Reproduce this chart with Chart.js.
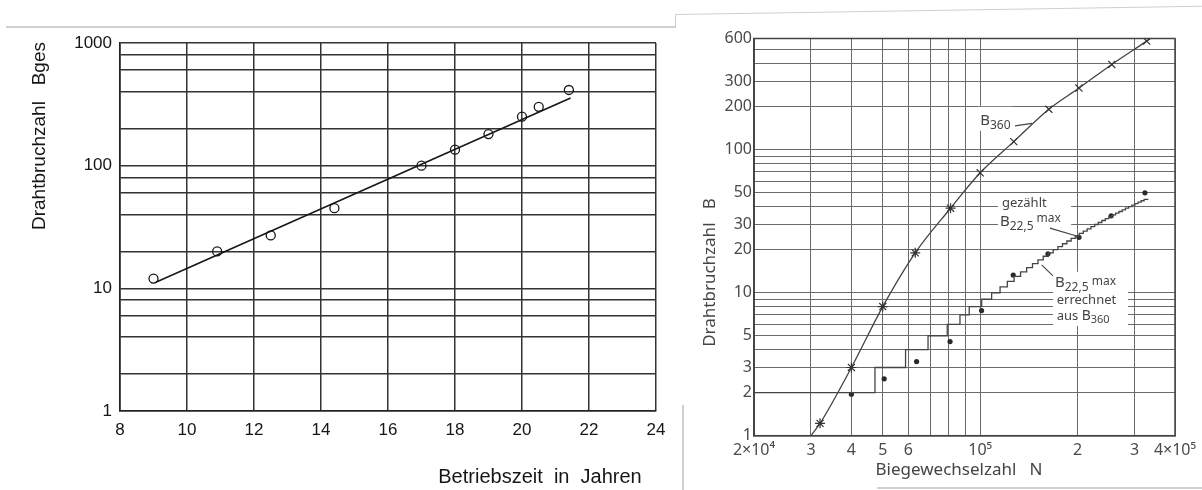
<!DOCTYPE html>
<html>
<head>
<meta charset="utf-8">
<script src="https://cdn.jsdelivr.net/npm/chart.js@4.4.0/dist/chart.umd.min.js"></script>
<style>
  html, body { margin: 0; padding: 0; background: #fff; }
  #page { position: relative; width: 1202px; height: 490px; overflow: hidden; background: #fff; }
  #left { position: absolute; left: 0; top: 0; width: 680px; height: 490px; }
  #right { position: absolute; left: 680px; top: 0; width: 522px; height: 490px; }
  .edge { position: absolute; background: #cfcfcf; }
</style>
</head>
<body>
<div id="page">
  <canvas id="left" width="680" height="490"></canvas>
  <canvas id="right" width="522" height="490"></canvas>
  <!-- scan edges -->
  <div class="edge" style="left:6px;top:26px;width:670px;height:2px"></div>
  <div class="edge" style="left:675px;top:14px;width:1px;height:13px"></div>
  <div class="edge" style="left:675px;top:14px;width:527px;height:1px;transform-origin:0 0;transform:rotate(-0.9deg)"></div>
  <div class="edge" style="left:682px;top:405px;width:2px;height:85px"></div>
  <div class="edge" style="left:877px;top:487px;width:325px;height:2px"></div>
</div>
<script>
// ---- left chart: Drahtbruchzahl over Betriebszeit ----
const yearTicks = [8, 10, 12, 14, 16, 18, 20, 22, 24];
const leftGrid = [1, 2, 4, 6, 8, 10, 20, 40, 60, 80, 100, 200, 400, 600, 800, 1000];
const leftYLabels = [1, 10, 100, 1000];
const years = [9, 10.9, 12.5, 14.4, 17, 18, 19, 20, 20.5, 21.4];
const breaks = [12, 20, 27, 45, 100, 135, 181, 251, 302, 414];
const fitYears = [9.07, 21.45];
const fitBreaks = [11.2, 356];

// ---- right chart: Drahtbruchzahl over Biegewechselzahl ----
const nGrid = [2e4, 3e4, 4e4, 5e4, 6e4, 7e4, 8e4, 9e4, 1e5, 2e5, 3e5, 4e5];
const nLabelValues = [2e4, 3e4, 4e4, 5e4, 6e4, 1e5, 2e5, 3e5, 4e5];
const nLabels = ['2×10⁴', '3', '4', '5', '6', '10⁵', '2', '3', '4×10⁵'];
const bGrid = [1, 2, 3, 4, 5, 6, 7, 8, 9, 10, 20, 30, 40, 50, 60, 70, 80, 90, 100, 200, 300, 400, 500, 600];
const bLabelValues = [1, 2, 3, 5, 10, 20, 30, 50, 100, 200, 300, 600];

const b360N = [30000, 32000, 40000, 50000, 63000, 81000, 100000, 127000, 163000, 202000, 255000, 327000, 345000];
const b360B = [1, 1.22, 3, 8, 19, 39, 69, 114, 192, 270, 395, 575, 625];
const b360Marker = [0, 1, 1, 1, 1, 1, 1, 1, 1, 1, 1, 1, 0];

const countN = [40000, 50500, 63600, 80700, 101000, 126500, 162000, 202000, 254000, 323000];
const countB = [1.95, 2.5, 3.3, 4.55, 7.5, 13.3, 18.7, 24.4, 34.5, 50];

const stairN = [20000, 47300, 58800, 69000, 79100, 86600, 92500, 101100, 108500, 115200,
  121300, 127300, 133300, 139200, 145100, 150900, 156600, 162400, 168100, 173800,
  179600, 185300, 191000, 196700, 202500, 208300, 214100, 220000, 225800, 231700,
  237700, 243700, 249800, 255900, 262100, 268400, 274700, 281100, 287600, 294200,
  300800, 307400, 314300, 321100, 328100, 331000];
const stairB = [1, 2, 3, 4, 5, 6, 7, 8, 9, 10,
  11, 12, 13, 14, 15, 16, 17, 18, 19, 20,
  21, 22, 23, 24, 25, 26, 27, 28, 29, 30,
  31, 32, 33, 34, 35, 36, 37, 38, 39, 40,
  41, 42, 43, 44, 45, 45];

const ink = '#161616';
const grey = '#444';
const sansL = '"Liberation Sans", Arial, sans-serif';
const sansR = '"Noto Sans", "DejaVu Sans", sans-serif';

const toXY = (xs, ys) => xs.map((x, i) => ({ x: x, y: ys[i] }));

function drawRotated(ctx, text, x, y, font, color) {
  ctx.save();
  ctx.translate(x, y);
  ctx.rotate(-Math.PI / 2);
  ctx.font = font;
  ctx.fillStyle = color;
  ctx.textAlign = 'center';
  ctx.textBaseline = 'middle';
  ctx.fillText(text, 0, 0);
  ctx.restore();
}

const leftTitles = {
  id: 'leftTitles',
  afterDraw(chart) {
    const ctx = chart.ctx, a = chart.chartArea;
    drawRotated(ctx, 'Drahtbruchzahl   Bges', a.left - 80, a.top + 93, '19px ' + sansL, ink);
    ctx.save();
    ctx.font = '20px ' + sansL;
    ctx.fillStyle = ink;
    ctx.textAlign = 'center';
    ctx.textBaseline = 'middle';
    ctx.fillText('Betriebszeit  in  Jahren', a.left + 420, a.bottom + 66);
    ctx.restore();
  }
};

new Chart(document.getElementById('left'), {
  type: 'scatter',
  data: {
    datasets: [
      {
        label: 'Ausgleich',
        data: toXY(fitYears, fitBreaks),
        showLine: true,
        borderColor: ink,
        borderWidth: 1.5,
        pointRadius: 0
      },
      {
        label: 'Messwerte',
        data: toXY(years, breaks),
        pointStyle: 'circle',
        pointRadius: 4.5,
        borderColor: ink,
        backgroundColor: 'rgba(255,255,255,0)',
        borderWidth: 1.3
      }
    ]
  },
  options: {
    responsive: false,
    animation: false,
    devicePixelRatio: 1,
    layout: { padding: { left: 0, top: 43, right: 24, bottom: 0 } },
    plugins: { legend: { display: false }, tooltip: { enabled: false } },
    scales: {
      x: {
        type: 'linear', min: 8, max: 24,
        afterBuildTicks: s => { s.ticks = yearTicks.map(v => ({ value: v })); },
        afterFit: s => { s.height = 79; },
        grid: { color: '#333', lineWidth: 1.5, drawTicks: false },
        border: { color: '#222', width: 1.6 },
        ticks: { padding: 9, color: ink, font: { family: sansL, size: 17 }, maxRotation: 0, autoSkip: false }
      },
      y: {
        type: 'logarithmic', min: 1, max: 1000,
        afterBuildTicks: s => { s.ticks = leftGrid.map(v => ({ value: v })); },
        afterFit: s => { s.width = 120; },
        grid: { color: '#333', lineWidth: 1.5, drawTicks: false },
        border: { color: '#222', width: 1.6 },
        ticks: {
          padding: 8, color: ink, font: { family: sansL, size: 17 }, autoSkip: false,
          callback: v => leftYLabels.includes(v) ? String(v) : ''
        }
      }
    }
  },
  plugins: [leftTitles]
});

// annotations of the right chart, placed in data coordinates
const whiteBoxes = [
  [98400, 125400, 135.7, 199.6],
  [113500, 191000, 26.6, 47.6],
  [167900, 286200, 5.86, 14.0]
];
const noteTexts = [
  [100000, 159, [['B', 15, 0], ['360', 12, 5]]],
  [116800, 42.5, [['gezählt', 13, 0]]],
  [115100, 31.4, [['B', 15, 0], ['22,5', 12, 5], [' max', 12, -3]]],
  [170300, 11.7, [['B', 15, 0], ['22,5', 12, 5], [' max', 12, -1]]],
  [172400, 8.85, [['errechnet', 13, 0]]],
  [172400, 6.88, [['aus ', 13, 0], ['B', 14, 0], ['360', 11, 4]]]
];
const leaders = [
  [128100, 147, 144600, 153],
  [164300, 28.3, 201000, 24.7],
  [167900, 13.1, 154900, 15.65]
];

const rightDecor = {
  id: 'rightDecor',
  beforeDatasetsDraw(chart) {
    const ctx = chart.ctx, a = chart.chartArea;
    const sx = chart.scales.x, sy = chart.scales.y;
    ctx.save();
    ctx.fillStyle = '#fff';
    whiteBoxes.forEach(b => {
      const x0 = sx.getPixelForValue(b[0]), x1 = sx.getPixelForValue(b[1]);
      const y0 = sy.getPixelForValue(b[3]), y1 = sy.getPixelForValue(b[2]);
      ctx.fillRect(x0, y0, x1 - x0, y1 - y0);
    });
    // frame
    ctx.strokeStyle = grey;
    ctx.lineWidth = 1.5;
    ctx.strokeRect(a.left, a.top, a.right - a.left, a.bottom - a.top);
    // texts
    ctx.fillStyle = grey;
    ctx.textAlign = 'left';
    ctx.textBaseline = 'middle';
    noteTexts.forEach(t => {
      let x = sx.getPixelForValue(t[0]);
      const y = sy.getPixelForValue(t[1]);
      t[2].forEach(p => {
        ctx.font = p[1] + 'px ' + sansR;
        ctx.fillText(p[0], x, y + p[2]);
        x += ctx.measureText(p[0]).width;
      });
    });
    // leader lines
    ctx.strokeStyle = grey;
    ctx.lineWidth = 1.1;
    leaders.forEach(l => {
      ctx.beginPath();
      ctx.moveTo(sx.getPixelForValue(l[0]), sy.getPixelForValue(l[1]));
      ctx.lineTo(sx.getPixelForValue(l[2]), sy.getPixelForValue(l[3]));
      ctx.stroke();
    });
    ctx.restore();
  },
  afterDraw(chart) {
    const ctx = chart.ctx, a = chart.chartArea;
    drawRotated(ctx, 'Drahtbruchzahl   B', a.left - 44, a.top + 234, '17px ' + sansR, grey);
    ctx.save();
    ctx.font = '17px ' + sansR;
    ctx.fillStyle = grey;
    ctx.textAlign = 'center';
    ctx.textBaseline = 'middle';
    ctx.fillText('Biegewechselzahl   N', a.left + 205, a.bottom + 34);
    ctx.restore();
  }
};

new Chart(document.getElementById('right'), {
  type: 'scatter',
  data: {
    datasets: [
      {
        label: 'B360',
        data: toXY(b360N, b360B),
        showLine: true,
        cubicInterpolationMode: 'monotone',
        borderColor: grey,
        borderWidth: 1.3,
        pointStyle: c => c.dataIndex <= 5 ? 'star' : 'crossRot',
        pointRadius: c => b360Marker[c.dataIndex] ? 5 : 0,
        pointBorderColor: '#333',
        pointBorderWidth: 1.2,
        pointBackgroundColor: '#333'
      },
      {
        label: 'B22,5 max errechnet',
        data: toXY(stairN, stairB),
        showLine: true,
        stepped: 'after',
        borderColor: grey,
        borderWidth: 1.3,
        pointRadius: 0
      },
      {
        label: 'B22,5 max gezählt',
        data: toXY(countN, countB),
        pointStyle: 'circle',
        pointRadius: 2.6,
        borderWidth: 0,
        backgroundColor: '#2a2a2a'
      }
    ]
  },
  options: {
    responsive: false,
    animation: false,
    devicePixelRatio: 1,
    layout: { padding: { left: 0, top: 38.5, right: 27, bottom: 0 } },
    plugins: { legend: { display: false }, tooltip: { enabled: false } },
    scales: {
      x: {
        type: 'logarithmic', min: 2e4, max: 4e5,
        afterBuildTicks: s => { s.ticks = nGrid.map(v => ({ value: v })); },
        afterFit: s => { s.height = 54.3; },
        grid: { color: '#6a6a6a', lineWidth: 1, drawTicks: false },
        border: { color: grey, width: 1.5 },
        ticks: {
          padding: 5, color: '#4a4a4a', font: { family: sansR, size: 16 }, maxRotation: 0, autoSkip: false,
          callback: v => { const i = nLabelValues.indexOf(v); return i >= 0 ? nLabels[i] : ''; }
        }
      },
      y: {
        type: 'logarithmic', min: 1, max: 600,
        afterBuildTicks: s => { s.ticks = bGrid.map(v => ({ value: v })); },
        afterFit: s => { s.width = 74; },
        grid: { color: '#6a6a6a', lineWidth: 1, drawTicks: false },
        border: { color: grey, width: 1.5 },
        ticks: {
          padding: 2, color: '#4a4a4a', font: { family: sansR, size: 16 }, autoSkip: false,
          callback: v => bLabelValues.includes(v) ? String(v) : ''
        }
      }
    }
  },
  plugins: [rightDecor]
});
</script>
</body>
</html>
